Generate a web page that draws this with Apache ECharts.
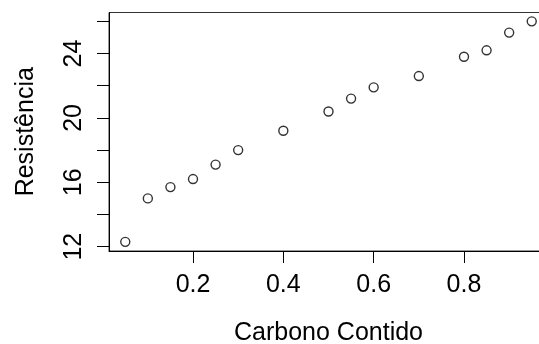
<!DOCTYPE html>
<html>
<head>
<meta charset="utf-8">
<script src="https://cdn.jsdelivr.net/npm/echarts@6/dist/echarts.min.js"></script>
<style>
  html, body { margin: 0; padding: 0; background: #fff; }
  #chart { width: 539px; height: 344px; }
</style>
</head>
<body>
<div id="chart"></div>
<script>
// carbon content vs resistance
const carbono = [0.05, 0.10, 0.15, 0.20, 0.25, 0.30, 0.40, 0.50, 0.55, 0.60, 0.70, 0.80, 0.85, 0.90, 0.95];
const resistencia = [12.3, 15.0, 15.7, 16.2, 17.1, 18.0, 19.2, 20.4, 21.2, 21.9, 22.6, 23.8, 24.2, 25.3, 26.0];
const xTicks = [0.2, 0.4, 0.6, 0.8];
const yTicks = [12, 14, 16, 18, 20, 22, 24, 26];
const yLabels = [12, 16, 20, 24];

const font = "'Liberation Sans', Arial, sans-serif";
const points = carbono.map((x, i) => [x, resistencia[i]]);

const chart = echarts.init(document.getElementById("chart"));
chart.setOption({
  backgroundColor: "#fff",
  animation: false,
  grid: {
    left: 109,
    top: 12.5,
    width: 439,
    height: 238.5,
    outerBoundsMode: "none",
    containLabel: false,
    show: true,
    borderColor: "#333",
    borderWidth: 1
  },
  xAxis: {
    type: "value",
    min: 0.014,
    max: 0.986,
    name: "Carbono Contido",
    nameLocation: "middle",
    nameGap: 70,
    nameTextStyle: { fontFamily: font, fontSize: 25, color: "#000" },
    splitLine: { show: false },
    axisLine: { show: true, lineStyle: { color: "#000", width: 1 } },
    axisTick: { show: true, inside: false, length: 12, customValues: xTicks, lineStyle: { color: "#000" } },
    axisLabel: {
      customValues: xTicks,
      margin: 22,
      fontFamily: font,
      fontSize: 25,
      color: "#000",
      formatter: v => v.toFixed(1)
    }
  },
  yAxis: {
    type: "value",
    min: 11.73,
    max: 26.55,
    name: "Resistência",
    nameLocation: "middle",
    nameGap: 70,
    nameTextStyle: { fontFamily: font, fontSize: 25, color: "#000" },
    splitLine: { show: false },
    axisLine: { show: true, lineStyle: { color: "#000", width: 1 } },
    axisTick: { show: true, inside: false, length: 12, customValues: yTicks, lineStyle: { color: "#000" } },
    axisLabel: {
      customValues: yLabels,
      rotate: 90,
      margin: 22,
      fontFamily: font,
      fontSize: 25,
      color: "#000"
    }
  },
  series: [{
    type: "scatter",
    data: points,
    symbol: "circle",
    symbolSize: 9,
    itemStyle: { color: "#fff", borderColor: "#000", borderWidth: 1.4 }
  }]
});
</script>
</body>
</html>
